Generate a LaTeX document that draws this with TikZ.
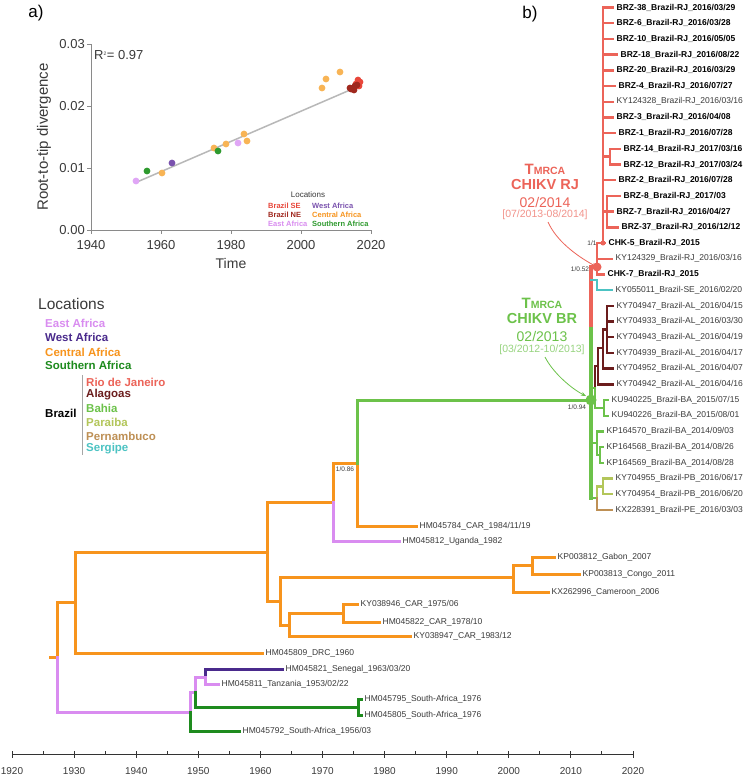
\documentclass[tikz,border=0pt]{standalone}
\usepackage{fontspec}
\setmainfont{Liberation Sans}
\usetikzlibrary{arrows.meta}
\newcommand{\fsz}[1]{\fontsize{#1}{#1}\selectfont}
\definecolor{cOr}{HTML}{F7941D}
\definecolor{cEA}{HTML}{D98CF0}
\definecolor{cWA}{HTML}{4A2A8C}
\definecolor{cSA}{HTML}{1E8B1E}
\definecolor{cRJ}{HTML}{EC6459}
\definecolor{cAL}{HTML}{6B1D1D}
\definecolor{cBA}{HTML}{6CC24A}
\definecolor{cPB}{HTML}{B3C65A}
\definecolor{cPE}{HTML}{BE9055}
\definecolor{cSE}{HTML}{4CC3C3}
\definecolor{tgrey}{HTML}{3A3A3A}
\definecolor{axg}{HTML}{8A8A8A}
\definecolor{ptOr}{HTML}{F8B455}
\definecolor{ptEA}{HTML}{E0A6F6}
\definecolor{ptSA}{HTML}{2E9A2E}
\definecolor{ptWA}{HTML}{7A52AE}
\definecolor{ptSE}{HTML}{E8463A}
\definecolor{ptNE}{HTML}{A0281E}
\begin{document}
\begin{tikzpicture}[x=1pt,y=-1pt,
  brn/.style={line width=3pt, line cap=rect},
  bbr/.style={line width=2.4pt, line cap=rect},
  tiplab/.style={anchor=west, inner sep=0pt, inner xsep=3.5pt, font=\fsz{8.5}, text=tgrey},
  tipbold/.style={tiplab, font=\bfseries\fsz{8.5}, text=black},
  bs/.style={font=\fsz{6.5}, text=tgrey, inner sep=0pt},
  legb/.style={anchor=west, inner sep=0pt, font=\bfseries\fsz{11.5}},
  lega/.style={anchor=west, inner sep=0pt, font=\bfseries\fsz{7.5}},
  arr/.style={line width=0.8pt, -{Stealth[length=5pt,width=4pt]}}]
\useasboundingbox (0,0) rectangle (745,782);
\fill[white] (0,0) rectangle (745,782);

% ---------------- panel labels
\node[font=\fsz{17}] (pa) at (36,13) {a)};
\node[font=\fsz{17}] (pb) at (530,14) {b)};

% ---------------- panel a
\draw[axg, line width=1pt] (91,44) -- (91,230) -- (371,230);
\foreach \v/\l in {0/0.00,1/0.01,2/0.02,3/0.03}{
  \draw[axg, line width=1pt] (87,{230-62*\v}) -- (91,{230-62*\v});
  \node[anchor=east, font=\fsz{13}, text=tgrey, inner sep=0pt] at (85,{230-62*\v}) {\l};
}
\foreach \k/\l in {0/1940,1/1960,2/1980,3/2000,4/2020}{
  \draw[axg, line width=1pt] ({91+70*\k},230) -- ({91+70*\k},234);
  \node[font=\fsz{13}, text=tgrey, inner sep=0pt] at ({91+70*\k},245) {\l};
}
\node[font=\fsz{14}, text=tgrey] (tlab) at (231,263) {Time};
\node[rotate=90, font=\fsz{15}, text=tgrey] (ylab) at (44,137) {Root-to-tip divergence};
\node[anchor=west, font=\fsz{13}, text=tgrey, inner sep=0pt] (r2) at (94,55) {R\textsuperscript{\fsz{5}2}= 0.97};
\draw[black!28, line width=1.5pt] (137,182) -- (357,87);
\foreach \px/\py/\c in {136/181/ptEA,147/171/ptSA,162/173/ptOr,172/163/ptWA,214/148/ptOr,218/151/ptSA,226/144/ptOr,238/143/ptEA,244/134/ptOr,247/141/ptOr,322/88/ptOr,326/79/ptOr,340/72/ptOr}{
  \fill[\c] (\px,\py) circle (3.4);
}
\foreach \px/\py in {358/80,360/82,356/84,359/86}{\fill[ptSE] (\px,\py) circle (3.4);}
\foreach \px/\py in {351/89,353/88,355/86,357/85,354/90,350/88}{\fill[ptNE] (\px,\py) circle (3.4);}
\node[font=\fsz{8}, text=tgrey] (alocs) at (308,195) {Locations};
\node[lega, text=ptSE] (a1) at (268,206) {Brazil SE};
\node[lega, text=ptNE] (a2) at (268,215) {Brazil NE};
\node[lega, text=cEA] (a3) at (268,224) {East Africa};
\node[lega, text=ptWA] (a4) at (312,206) {West Africa};
\node[lega, text=cOr] (a5) at (312,215) {Central Africa};
\node[lega, text=ptSA] (a6) at (312,224) {Southern Africa};

% ---------------- main legend
\node[anchor=west, inner sep=0pt, font=\fsz{15.5}, text=tgrey] (locs) at (38,304) {Locations};
\node[legb, text=cEA] (l1) at (45,323) {East Africa};
\node[legb, text=cWA] (l2) at (45,337) {West Africa};
\node[legb, text=cOr] (l3) at (45,352) {Central Africa};
\node[legb, text=cSA] (l4) at (45,365) {Southern Africa};
\node[legb, text=black] (l5) at (45,413) {Brazil};
\draw[black!35, line width=0.8pt] (82,375) -- (82,455);
\node[legb, text=cRJ] (l6) at (86,382) {Rio de Janeiro};
\node[legb, text=cAL] (l7) at (86,395) {Alagoas};
\node[legb, text=cBA] (l8) at (86,408) {Bahia};
\node[legb, text=cPB] (l9) at (86,422) {Paraiba};
\node[legb, text=cPE] (l10) at (86,436) {Pernambuco};
\node[legb, text=cSE] (l11) at (86,449) {Sergipe};

% ---------------- African part of tree
\coordinate (rs) at (50,657);
\coordinate (r0) at (57,657);
\coordinate (n1) at (75,602);
\coordinate (p1) at (190,712);
\coordinate (n2) at (267,552);
\coordinate (n3) at (333,502);
\coordinate (n4) at (280,601);
\coordinate (n5) at (357,463);
\coordinate (n6) at (513,577);
\coordinate (n7) at (289,625);
\coordinate (n8) at (532,565);
\coordinate (n9) at (343,613);
\coordinate (p2) at (195,692);
\coordinate (p3) at (205,677);
\coordinate (s1) at (358,707);
\coordinate (BR0) at (591,400);

\node[tiplab] (drc) at (262,653) {HM045809\_DRC\_1960};
\node[tiplab] (uga) at (399,541) {HM045812\_Uganda\_1982};
\node[tiplab] (car84) at (416,526) {HM045784\_CAR\_1984/11/19};
\node[tiplab] (cam) at (548,592) {KX262996\_Cameroon\_2006};
\node[tiplab] (gab) at (554,557) {KP003812\_Gabon\_2007};
\node[tiplab] (con) at (579,574) {KP003813\_Congo\_2011};
\node[tiplab] (car83) at (410,636) {KY038947\_CAR\_1983/12};
\node[tiplab] (car75) at (357,604) {KY038946\_CAR\_1975/06};
\node[tiplab] (car78) at (379,622) {HM045822\_CAR\_1978/10};
\node[tiplab] (sa56) at (239,731) {HM045792\_South-Africa\_1956/03};
\node[tiplab] (sen) at (282,669) {HM045821\_Senegal\_1963/03/20};
\node[tiplab] (tan) at (218,684) {HM045811\_Tanzania\_1953/02/22};
\node[tiplab] (sa76a) at (361,699) {HM045795\_South-Africa\_1976};
\node[tiplab] (sa76b) at (361,715) {HM045805\_South-Africa\_1976};

\draw[brn, cOr] (rs) -- (r0);
\draw[brn, cOr] (r0) |- (n1);
\draw[brn, cEA] (r0) |- (p1);
\draw[brn, cOr] (n1) |- (n2);
\draw[brn, cOr] (n1) |- (drc.west);
\draw[brn, cOr] (n2) |- (n3);
\draw[brn, cOr] (n2) |- (n4);
\draw[brn, cOr] (n3) |- (n5);
\draw[brn, cEA] (n3) |- (uga.west);
\draw[brn, cOr] (n5) |- (car84.west);
\draw[brn, cBA] (n5) |- (BR0);
\draw[brn, cOr] (n4) |- (n6);
\draw[brn, cOr] (n4) |- (n7);
\draw[brn, cOr] (n6) |- (n8);
\draw[brn, cOr] (n6) |- (cam.west);
\draw[brn, cOr] (n8) |- (gab.west);
\draw[brn, cOr] (n8) |- (con.west);
\draw[brn, cOr] (n7) |- (n9);
\draw[brn, cOr] (n7) |- (car83.west);
\draw[brn, cOr] (n9) |- (car75.west);
\draw[brn, cOr] (n9) |- (car78.west);
\draw[brn, cEA] (p1) |- (p2);
\draw[brn, cSA] (p1) |- (sa56.west);
\draw[brn, cEA] (p2) |- (p3);
\draw[brn, cSA] (p2) |- (s1);
\draw[brn, cWA] (p3) |- (sen.west);
\draw[brn, cEA] (p3) |- (tan.west);
\draw[brn, cSA] (s1) |- (sa76a.west);
\draw[brn, cSA] (s1) |- (sa76b.west);

% ---------------- Brazilian clade
\coordinate (brs) at (591,325);
\coordinate (brlow) at (591,498);
\coordinate (RJ) at (597,267);
\coordinate (R1) at (603,243);
\coordinate (R14) at (610,156.6);
\coordinate (R8) at (607,211.6);
\coordinate (seA) at (591,280);
\coordinate (SE0) at (597,280);
\coordinate (G1) at (595,388);
\coordinate (A0) at (598,366);
\coordinate (A1) at (603,348);
\coordinate (A2) at (607,329.5);
\coordinate (KU0) at (604,407.9);
\coordinate (KP0) at (597,443);
\coordinate (KP1) at (600,455);
\coordinate (PP0) at (597,498);
\coordinate (PB0) at (603,486.3);

\node[tipbold] (t0) at (613,7.5) {BRZ-38\_Brazil-RJ\_2016/03/29};
\node[tipbold] (t1) at (613,23.2) {BRZ-6\_Brazil-RJ\_2016/03/28};
\node[tipbold] (t2) at (613,38.9) {BRZ-10\_Brazil-RJ\_2016/05/05};
\node[tipbold] (t3) at (617,54.6) {BRZ-18\_Brazil-RJ\_2016/08/22};
\node[tipbold] (t4) at (613,70.3) {BRZ-20\_Brazil-RJ\_2016/03/29};
\node[tipbold] (t5) at (615,86.0) {BRZ-4\_Brazil-RJ\_2016/07/27};
\node[tiplab] (t6) at (613,101.7) {KY124328\_Brazil-RJ\_2016/03/16};
\node[tipbold] (t7) at (613,117.4) {BRZ-3\_Brazil-RJ\_2016/04/08};
\node[tipbold] (t8) at (615,133.1) {BRZ-1\_Brazil-RJ\_2016/07/28};
\node[tipbold] (t9) at (620,148.8) {BRZ-14\_Brazil-RJ\_2017/03/16};
\node[tipbold] (t10) at (620,164.5) {BRZ-12\_Brazil-RJ\_2017/03/24};
\node[tipbold] (t11) at (615,180.2) {BRZ-2\_Brazil-RJ\_2016/07/28};
\node[tipbold] (t12) at (620,195.9) {BRZ-8\_Brazil-RJ\_2017/03};
\node[tipbold] (t13) at (613,211.6) {BRZ-7\_Brazil-RJ\_2016/04/27};
\node[tipbold] (t14) at (618,227.3) {BRZ-37\_Brazil-RJ\_2016/12/12};
\node[tipbold] (t15) at (605,243.0) {CHK-5\_Brazil-RJ\_2015};
\node[tiplab] (t16) at (612,258.7) {KY124329\_Brazil-RJ\_2016/03/16};
\node[tipbold] (t17) at (604,274.4) {CHK-7\_Brazil-RJ\_2015};
\node[tiplab] (t18) at (612,290.1) {KY055011\_Brazil-SE\_2016/02/20};
\node[tiplab] (t19) at (613,305.8) {KY704947\_Brazil-AL\_2016/04/15};
\node[tiplab] (t20) at (613,321.5) {KY704933\_Brazil-AL\_2016/03/30};
\node[tiplab] (t21) at (613,337.2) {KY704943\_Brazil-AL\_2016/04/19};
\node[tiplab] (t22) at (613,352.9) {KY704939\_Brazil-AL\_2016/04/17};
\node[tiplab] (t23) at (613,368.6) {KY704952\_Brazil-AL\_2016/04/07};
\node[tiplab] (t24) at (613,384.3) {KY704942\_Brazil-AL\_2016/04/16};
\node[tiplab] (t25) at (608,400.0) {KU940225\_Brazil-BA\_2015/07/15};
\node[tiplab] (t26) at (608,415.7) {KU940226\_Brazil-BA\_2015/08/01};
\node[tiplab] (t27) at (603,431.4) {KP164570\_Brazil-BA\_2014/09/03};
\node[tiplab] (t28) at (603,447.1) {KP164568\_Brazil-BA\_2014/08/26};
\node[tiplab] (t29) at (603,462.8) {KP164569\_Brazil-BA\_2014/08/28};
\node[tiplab] (t30) at (612,478.5) {KY704955\_Brazil-PB\_2016/06/17};
\node[tiplab] (t31) at (612,494.2) {KY704954\_Brazil-PB\_2016/06/20};
\node[tiplab] (t32) at (612,509.9) {KX228391\_Brazil-PE\_2016/03/03};

% main verticals
\draw[cBA, line width=4pt, line cap=rect] (brs) -- (brlow);
\draw[cRJ, line width=4pt, line cap=rect] (brs) |- (RJ);
% RJ clade
\draw[bbr, cRJ] (RJ) |- (R1);
\draw[bbr, cRJ] (RJ) |- (t16.west);
\draw[bbr, cRJ] (RJ) |- (t17.west);
\foreach \t in {t0,t1,t2,t3,t4,t5,t6,t7,t8,t11,t15}{\draw[bbr, cRJ] (R1) |- (\t.west);}
\draw[bbr, cRJ] (R1) |- (R14);
\draw[bbr, cRJ] (R1) |- (R8);
\draw[bbr, cRJ] (R14) |- (t9.west);
\draw[bbr, cRJ] (R14) |- (t10.west);
\draw[bbr, cRJ] (R8) |- (t12.west);
\draw[bbr, cRJ] (R8) |- (t13.west);
\draw[bbr, cRJ] (R8) |- (t14.west);
% Sergipe
\draw[bbr, cSE] (seA) -- (SE0) |- (t18.west);
% Alagoas / Bahia group
\draw[bbr, cBA] (BR0) |- (G1);
\draw[bbr, cAL] (G1) |- (A0);
\draw[bbr, cBA] (G1) |- (KU0);
\draw[bbr, cAL] (A0) |- (A1);
\draw[bbr, cAL] (A0) |- (t24.west);
\draw[bbr, cAL] (A1) |- (A2);
\draw[bbr, cAL] (A1) |- (t23.west);
\foreach \t in {t19,t20,t21,t22}{\draw[bbr, cAL] (A2) |- (\t.west);}
\draw[bbr, cBA] (KU0) |- (t25.west);
\draw[bbr, cBA] (KU0) |- (t26.west);
% KP group
\draw[bbr, cBA] (BR0) |- (KP0);
\draw[bbr, cBA] (KP0) |- (t27.west);
\draw[bbr, cBA] (KP0) |- (KP1);
\draw[bbr, cBA] (KP1) |- (t28.west);
\draw[bbr, cBA] (KP1) |- (t29.west);
% PB / PE
\draw[bbr, cBA] (BR0) |- (PP0);
\draw[bbr, cPB] (PP0) |- (PB0);
\draw[bbr, cPE] (PP0) |- (t32.west);
\draw[bbr, cPB] (PB0) |- (t30.west);
\draw[bbr, cPB] (PB0) |- (t31.west);

% node dots
\fill[cRJ] (RJ) circle (4.5);
\fill[cRJ] (R1) circle (2.5);
\fill[cBA] (BR0) circle (5.5);

% support values
\node[bs] (bs1) at (592,243) {1/1};
\node[bs] (bs2) at (580,269) {1/0.52};
\node[bs] (bs3) at (577,407) {1/0.94};
\node[bs] (bs4) at (345,469) {1/0.86};

% TMRCA annotations
\node[font=\bfseries\fsz{15}, text=cRJ, inner sep=0pt] (rj1) at (545,169) {T{\fsz{10.5}MRCA}};
\node[font=\bfseries\fsz{14.5}, text=cRJ, inner sep=0pt] (rj2) at (545,185) {CHIKV RJ};
\node[font=\fsz{14}, text=cRJ, inner sep=0pt] (rj3) at (545,202) {02/2014};
\node[font=\fsz{10.5}, text=cRJ!70, inner sep=0pt] (rj4) at (545,215) {[07/2013-08/2014]};
\draw[arr, cRJ] (548,222) .. controls (556,240) and (575,255) .. (RJ);

\node[font=\bfseries\fsz{15}, text=cBA, inner sep=0pt] (ba1) at (542,303) {T{\fsz{10.5}MRCA}};
\node[font=\bfseries\fsz{14.5}, text=cBA, inner sep=0pt] (ba2) at (542,319) {CHIKV BR};
\node[font=\fsz{14}, text=cBA, inner sep=0pt] (ba3) at (542,336) {02/2013};
\node[font=\fsz{10.5}, text=cBA!70, inner sep=0pt] (ba4) at (542,350) {[03/2012-10/2013]};
\draw[arr, cBA] (545,357) .. controls (553,373) and (572,389) .. (586,396);

% ---------------- time axis
\draw[black!80, line width=0.9pt] (12,754) -- (633,754);
\foreach \k in {0,...,10}{
  \pgfmathtruncatemacro{\yr}{1920+10*\k}
  \draw[black!80, line width=0.9pt] ({12+62.1*\k},751) -- ({12+62.1*\k},758);
  \node[font=\fsz{10}, text=tgrey, inner sep=0pt] at ({12+62.1*\k},771) {\yr};
}
\foreach \k in {0,...,9}{
  \draw[black!80, line width=0.9pt] ({43+62.1*\k},751) -- ({43+62.1*\k},754);
}
\end{tikzpicture}
\end{document}
